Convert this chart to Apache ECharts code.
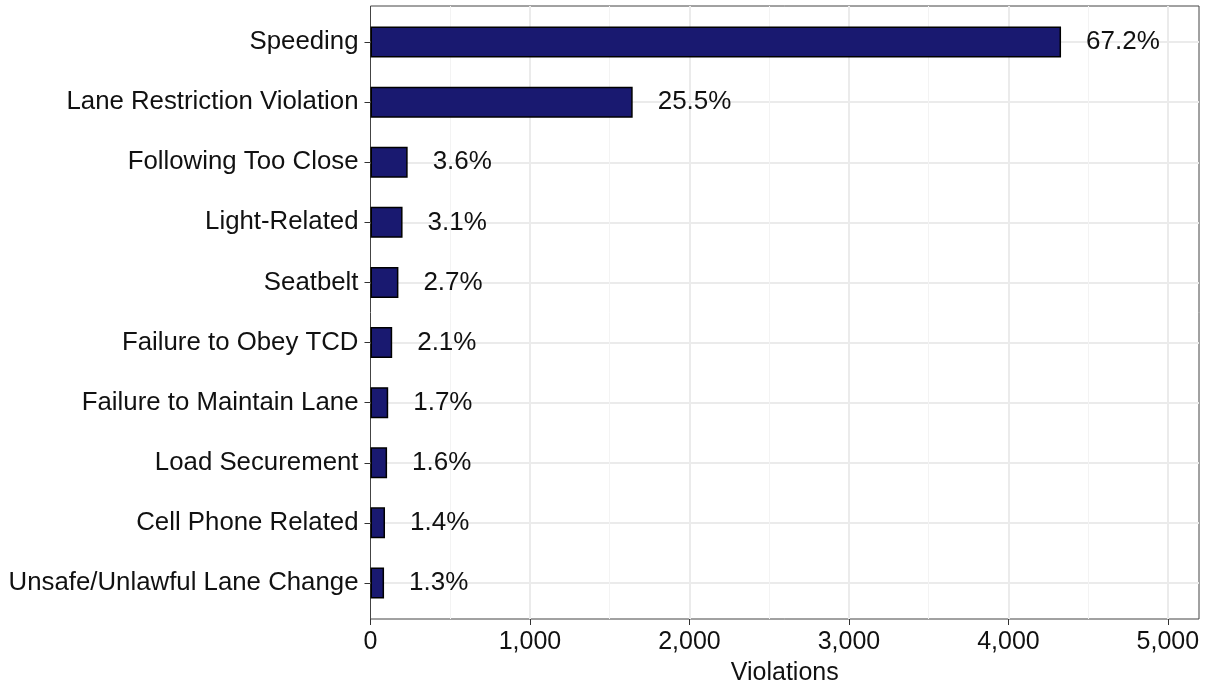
<!DOCTYPE html>
<html>
<head>
<meta charset="utf-8">
<script src="https://cdn.jsdelivr.net/npm/echarts@6/dist/echarts.min.js"></script>
<style>
  html, body { margin: 0; padding: 0; background: #fff; }
  #chart { width: 1210px; height: 687px; }
</style>
</head>
<body>
<div id="chart"></div>
<script>
// violation types, top to bottom
const categories = [
    'Speeding',
    'Lane Restriction Violation',
    'Following Too Close',
    'Light-Related',
    'Seatbelt',
    'Failure to Obey TCD',
    'Failure to Maintain Lane',
    'Load Securement',
    'Cell Phone Related',
    'Unsafe/Unlawful Lane Change'
]
const violations = [4330, 1644, 233, 201, 175, 136, 111, 104, 91, 85]
const pctLabels = ['67.2%', '25.5%', '3.6%', '3.1%', '2.7%', '2.1%', '1.7%', '1.6%', '1.4%', '1.3%']
const xTicks = [0, 1000, 2000, 3000, 4000, 5000]
const xMinor = [500, 1500, 2500, 3500, 4500]

const FONT = 'Liberation Sans, Arial, sans-serif'
const X_MAX = 5195

const chart = echarts.init(document.getElementById('chart'))

const option = {
    animation: false,
    backgroundColor: '#fff',
    grid: [
        // bars: band of 60px per category
        { left: 370.5, width: 828.5, top: 12, height: 601, show: false, outerBoundsMode: 'none' },
        // panel (border + x axis)
        { left: 370.5, width: 828.5, top: 6, height: 613, show: true, borderColor: '#444', borderWidth: 1, backgroundColor: 'transparent', outerBoundsMode: 'none' }
    ],
    xAxis: [
        { type: 'value', gridIndex: 0, min: 0, max: X_MAX, show: false },
        {
            type: 'value', gridIndex: 1, min: 0, max: X_MAX, interval: 1000,
            name: 'Violations', nameLocation: 'middle', nameGap: 42,
            nameTextStyle: { fontFamily: FONT, fontSize: 25, color: '#111' },
            axisLine: { show: false },
            axisTick: { show: true, length: 6, lineStyle: { color: '#333', width: 1 } },
            axisLabel: {
                fontFamily: FONT, fontSize: 25, color: '#111', margin: 11, showMaxLabel: false,
                formatter: v => xTicks.includes(v) ? v.toLocaleString('en-US') : ''
            },
            splitLine: { show: true, showMinLine: false, showMaxLine: false, lineStyle: { color: '#ebebeb', width: 2 } }
        }
    ],
    yAxis: [
        {
            type: 'category', gridIndex: 0, inverse: true, data: categories,
            axisLine: { show: false },
            axisTick: { show: true, alignWithLabel: true, length: 6, lineStyle: { color: '#333', width: 1 } },
            axisLabel: { fontFamily: FONT, fontSize: 25.8, color: '#111', margin: 12 },
            splitLine: { show: false }
        },
        { type: 'value', gridIndex: 1, min: 0, max: 1, show: false }
    ],
    series: [
        {
            // horizontal gridlines at category centres
            type: 'line', xAxisIndex: 0, yAxisIndex: 0, data: [], z: 1,
            markLine: {
                silent: true, symbol: 'none', z: 1, label: { show: false },
                lineStyle: { color: '#ebebeb', width: 2, type: 'solid' },
                data: categories.map(c => ({ yAxis: c }))
            }
        },
        {
            // minor vertical gridlines
            type: 'line', xAxisIndex: 1, yAxisIndex: 1, data: [], z: 1,
            markLine: {
                silent: true, symbol: 'none', z: 1, label: { show: false },
                lineStyle: { color: '#f3f3f3', width: 1, type: 'solid' },
                data: xMinor.map(v => ({ xAxis: v }))
            }
        },
        {
            type: 'bar', xAxisIndex: 0, yAxisIndex: 0, z: 3,
            data: violations,
            barWidth: 31,
            itemStyle: { color: '#191970', borderColor: '#000', borderWidth: 1.5 },
            label: {
                show: true, position: 'right', distance: 25,
                fontFamily: FONT, fontSize: 26, color: '#111',
                formatter: p => pctLabels[p.dataIndex]
            }
        }
    ]
}

chart.setOption(option)
</script>
</body>
</html>
